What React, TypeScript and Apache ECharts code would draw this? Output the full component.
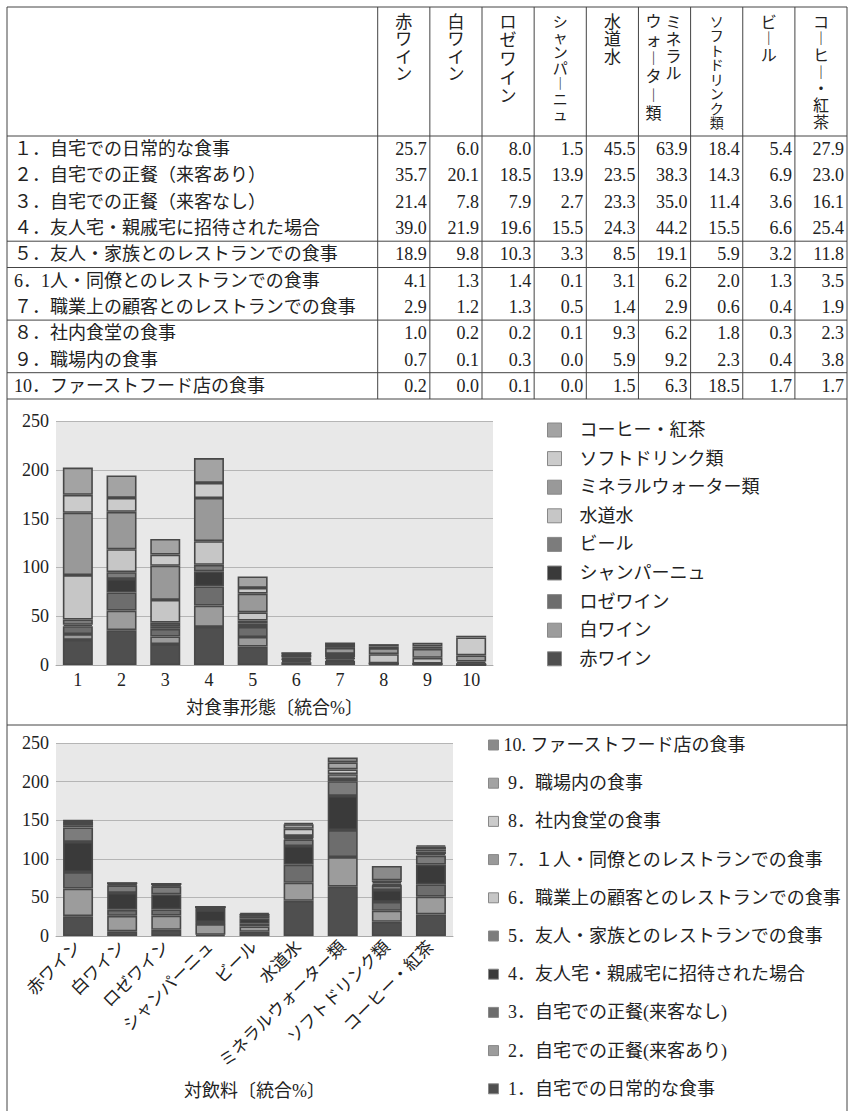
import React, { useEffect, useRef } from "react";
import * as echarts from "echarts";

// ---------- DATA ----------
const drinkNames = ["赤ワイン", "白ワイン", "ロゼワイン", "シャンパーニュ", "水道水", "ミネラルウォーター類", "ソフトドリンク類", "ビール", "コーヒー・紅茶"];
const headerLines = [["赤ワイン"], ["白ワイン"], ["ロゼワイン"], ["シャンパーニュ"], ["水道水"], ["ミネラル", "ウォーター類"], ["ソフトドリンク類"], ["ビール"], ["コーヒー・紅茶"]];
const mealLabels = [
  "１．自宅での日常的な食事",
  "２．自宅での正餐（来客あり）",
  "３．自宅での正餐（来客なし）",
  "４．友人宅・親戚宅に招待された場合",
  "５．友人・家族とのレストランでの食事",
  "6．1人・同僚とのレストランでの食事",
  "７．職業上の顧客とのレストランでの食事",
  "８．社内食堂の食事",
  "９．職場内の食事",
  "10．ファーストフード店の食事",
];
// values per drink, in table row order (1..10)
const redWine = [25.7, 35.7, 21.4, 39.0, 18.9, 4.1, 2.9, 1.0, 0.7, 0.2];
const whiteWine = [6.0, 20.1, 7.8, 21.9, 9.8, 1.3, 1.2, 0.2, 0.1, 0.0];
const roseWine = [8.0, 18.5, 7.9, 19.6, 10.3, 1.4, 1.3, 0.2, 0.3, 0.1];
const champagne = [1.5, 13.9, 2.7, 15.5, 3.3, 0.1, 0.5, 0.1, 0.0, 0.0];
const tapWater = [45.5, 23.5, 23.3, 24.3, 8.5, 3.1, 1.4, 9.3, 5.9, 1.5];
const mineralWater = [63.9, 38.3, 35.0, 44.2, 19.1, 6.2, 2.9, 6.2, 9.2, 6.3];
const softDrinks = [18.4, 14.3, 11.4, 15.5, 5.9, 2.0, 0.6, 1.8, 2.3, 18.5];
const beer = [5.4, 6.9, 3.6, 6.6, 3.2, 1.3, 0.4, 0.3, 0.4, 1.7];
const coffeeTea = [27.9, 23.0, 16.1, 25.4, 11.8, 3.5, 1.9, 2.3, 3.8, 1.7];
const tableColumns = [redWine, whiteWine, roseWine, champagne, tapWater, mineralWater, softDrinks, beer, coffeeTea];

// chart ordering
const chartDrinkOrder = [0, 1, 2, 3, 7, 4, 5, 6, 8]; // 赤,白,ロゼ,シャン,ビール,水道水,ミネラル,ソフト,コーヒー
const chartMealOrder = [0, 1, 2, 3, 4, 6, 5, 7, 8, 9]; // rows 6/7 appear swapped in the charts
const mealCategories = ["1", "2", "3", "4", "5", "6", "7", "8", "9", "10"];
const mealLegendNames = [
  " 1．自宅での日常的な食事",
  " 2．自宅での正餐(来客あり)",
  " 3．自宅での正餐(来客なし)",
  " 4．友人宅・親戚宅に招待された場合",
  " 5．友人・家族とのレストランでの食事",
  " 6．職業上の顧客とのレストランでの食事",
  " 7．１人・同僚とのレストランでの食事",
  " 8．社内食堂の食事",
  " 9．職場内の食事",
  "10. ファーストフード店の食事",
];
const yTicks = { min: 0, max: 250, interval: 50 };
const axisName1 = "対食事形態〔統合%〕";
const axisName2 = "対飲料〔統合%〕";

// ---------- STYLE ----------
const palette = ["#4f4f4f", "#9c9c9c", "#6d6d6d", "#3a3a3a", "#7c7c7c", "#c6c6c6", "#999999", "#cbcbcb", "#a3a3a3", "#8a8a8a"];
const FONT = "'Liberation Serif', 'Noto Sans CJK JP', serif";
const INK = "#222";
const LINE = "#444";
const L = 7, R = 847, TOP = 7, HEAD_B = 136, ROW_H = 26.3, COL0 = 377.7, COL_W = 52.15;
const TABLE_B = HEAD_B + ROW_H * 10;
const SPLIT_Y = 725;
const headerSpacing = [17.5, 17.5, 18.7, 15.5, 17.5, [17, 18.3], 14.5, 16.5, 16.7];
const headerFont = [17, 17, 17, 15, 17, 16, 14, 16, 16];

function vert(s: string) {
  return Array.from(s.replace(/ー/g, "︱")).join("\n");
}

export default function App() {
  const ref = useRef<HTMLDivElement>(null);
  useEffect(() => {
    if (!ref.current) return;
    const chart = echarts.init(ref.current, undefined, { renderer: "svg" });

    const graphic: any[] = [];
    const line = (x1: number, y1: number, x2: number, y2: number, w = 1) =>
      graphic.push({ type: "line", shape: { x1, y1, x2, y2 }, style: { stroke: LINE, lineWidth: w }, silent: true });
    // frame
    line(L, TOP, R, TOP);
    line(L, TOP, L, 1111);
    line(R, TOP, R, 1111);
    line(L, HEAD_B, R, HEAD_B);
    [4, 5, 7, 9, 10].forEach((k) => line(L, HEAD_B + k * ROW_H, R, HEAD_B + k * ROW_H));
    line(L, SPLIT_Y, R, SPLIT_Y);
    for (let i = 0; i < 9; i++) line(COL0 + i * COL_W, TOP, COL0 + i * COL_W, TABLE_B);

    // header vertical labels
    headerLines.forEach((lines, i) => {
      const cx = COL0 + i * COL_W + COL_W / 2;
      lines.forEach((s, j) => {
        const n = lines.length;
        const x = n === 1 ? cx : cx + (j === 0 ? 9 : -11);
        const sp = Array.isArray(headerSpacing[i]) ? (headerSpacing[i] as number[])[j] : (headerSpacing[i] as number);
        graphic.push({
          type: "text",
          x,
          y: 22 - sp / 2,
          style: {
            text: vert(s),
            font: `${headerFont[i]}px ${FONT}`,
            lineHeight: sp,
            fill: INK,
            textAlign: "center",
            textVerticalAlign: "top",
          },
          silent: true,
        });
      });
    });
    // rows
    mealLabels.forEach((lab, r) => {
      const cy = HEAD_B + ROW_H * (r + 0.5);
      graphic.push({
        type: "text",
        x: 14,
        y: cy,
        style: { text: lab, font: `18px ${FONT}`, fill: INK, textAlign: "left", textVerticalAlign: "middle" },
        silent: true,
      });
      tableColumns.forEach((col, c) => {
        graphic.push({
          type: "text",
          x: COL0 + (c + 1) * COL_W - 3,
          y: cy,
          style: { text: col[r].toFixed(1), font: `18px ${FONT}`, fill: INK, textAlign: "right", textVerticalAlign: "middle" },
          silent: true,
        });
      });
    });

    const barBase = { type: "bar", barWidth: 30, itemStyle: { borderColor: "#484848", borderWidth: 1.6 } };
    const series1 = chartDrinkOrder.map((d, k) => ({
      ...barBase,
      name: drinkNames[d],
      stack: "meal",
      xAxisIndex: 0,
      yAxisIndex: 0,
      itemStyle: { ...barBase.itemStyle, color: palette[k] },
      data: chartMealOrder.map((r) => tableColumns[d][r]),
    }));
    const series2 = chartMealOrder.map((r, k) => ({
      ...barBase,
      name: mealLegendNames[k],
      stack: "drink",
      xAxisIndex: 1,
      yAxisIndex: 1,
      itemStyle: { ...barBase.itemStyle, color: palette[k] },
      data: chartDrinkOrder.map((d) => tableColumns[d][r]),
    }));

    const yAxisBase = {
      type: "value",
      ...yTicks,
      axisLabel: { fontFamily: FONT, fontSize: 18, color: INK, margin: 7 },
      axisLine: { show: false },
      axisTick: { show: false },
      splitLine: { lineStyle: { color: "#b5b5b5", width: 1.2 } },
    };

    chart.setOption({
      animation: false,
      backgroundColor: "#fff",
      graphic,
      grid: [
        { left: 56, top: 421, width: 437, height: 244, show: true, backgroundColor: "#e8e8e8", borderWidth: 0 },
        { left: 56, top: 743, width: 397, height: 193, show: true, backgroundColor: "#e8e8e8", borderWidth: 0 },
      ],
      xAxis: [
        {
          type: "category",
          gridIndex: 0,
          data: mealCategories,
          axisLine: { lineStyle: { color: "#aaa" } },
          axisTick: { show: false },
          axisLabel: { fontFamily: FONT, fontSize: 18, color: INK, margin: 6, interval: 0 },
          name: axisName1,
          nameLocation: "middle",
          nameGap: 34,
          nameTextStyle: { fontFamily: FONT, fontSize: 18, color: INK },
        },
        {
          type: "category",
          gridIndex: 1,
          data: chartDrinkOrder.map((d) => drinkNames[d]),
          axisLine: { lineStyle: { color: "#aaa" } },
          axisTick: { show: false },
          axisLabel: { fontFamily: FONT, fontSize: 17, color: INK, margin: 8, interval: 0, rotate: 45 },
          name: axisName2,
          nameLocation: "middle",
          nameGap: 146,
          nameTextStyle: { fontFamily: FONT, fontSize: 18, color: INK },
        },
      ],
      yAxis: [
        { ...yAxisBase, gridIndex: 0 },
        { ...yAxisBase, gridIndex: 1 },
      ],
      legend: [
        {
          orient: "vertical",
          left: 542,
          top: 415,
          itemWidth: 14,
          itemHeight: 14,
          itemGap: 8.6,
          icon: "rect",
          itemStyle: { borderColor: "#888", borderWidth: 1 },
          textStyle: { fontFamily: FONT, fontSize: 18, color: INK, lineHeight: 20, padding: [0, 0, 0, 13] },
          data: chartDrinkOrder.map((d) => drinkNames[d]).reverse(),
          selectedMode: false,
        },
        {
          orient: "vertical",
          left: 483,
          top: 730,
          itemWidth: 10,
          itemHeight: 10,
          itemGap: 18.2,
          icon: "rect",
          itemStyle: { borderColor: "#888", borderWidth: 1 },
          textStyle: { fontFamily: FONT, fontSize: 18, color: INK, lineHeight: 20 },
          data: mealLegendNames.slice().reverse(),
          selectedMode: false,
        },
      ],
      series: [...series1, ...series2],
    });
    return () => chart.dispose();
  }, []);
  return <div ref={ref} style={{ position: "absolute", left: 0, top: 0, width: 848, height: 1111 }} />;
}
